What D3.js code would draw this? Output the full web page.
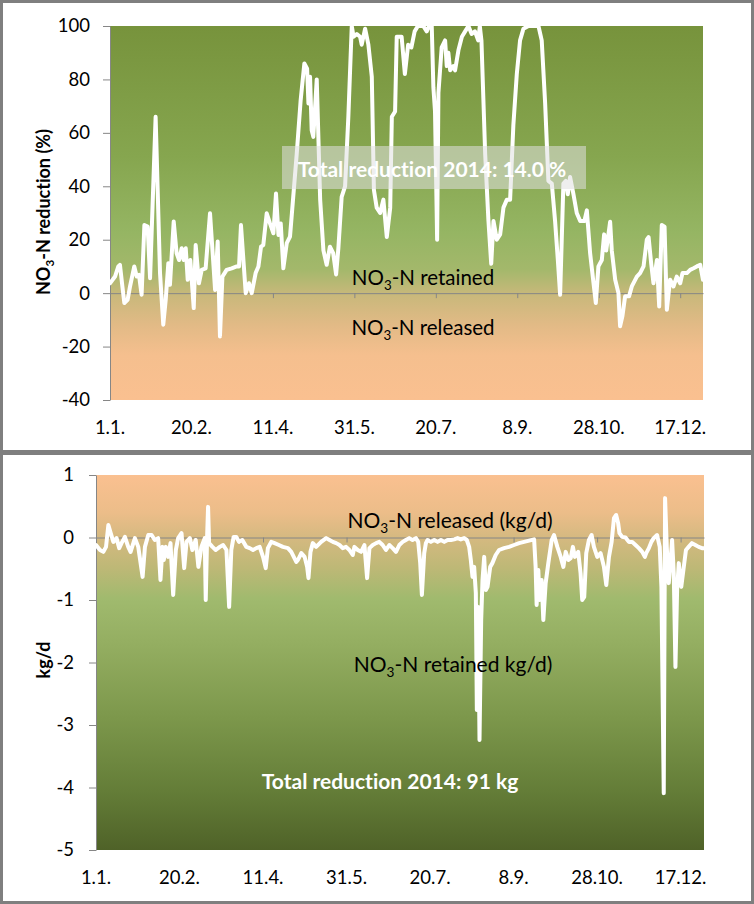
<!DOCTYPE html>
<html><head><meta charset="utf-8">
<script src="https://cdn.jsdelivr.net/npm/d3@7/dist/d3.min.js"></script>
<style>
html,body{margin:0;padding:0;background:#fff;}
svg{display:block;font-family:Lato,"Open Sans",sans-serif;font-variant-ligatures:none;font-feature-settings:"liga" 0,"clig" 0;}
</style></head>
<body>
<svg id="c" width="754" height="904"></svg>
<script>
// ---------- DATA ----------
const xTickDays = [0, 50, 100, 150, 200, 250, 300, 350];
const xTickLabels = ["1.1.", "20.2.", "11.4.", "31.5.", "20.7.", "8.9.", "28.10.", "17.12."];
const topYTicks = [-40, -20, 0, 20, 40, 60, 80, 100];
const botYTicks = [-5, -4, -3, -2, -1, 0, 1];

// NO3-N reduction (%) – day of year index vs value
const topDays = [0,3.1,5.1,6.1,7.6,8.8,10.8,12.3,14.9,16.4,17.8,19.4,21.1,23.1,24.6,28,30.7,32.7,34.2,35.8,36.8,39.1,40.9,42.4,44,45.2,46.5,47.7,49.3,51.4,52.6,54.6,56.3,58.7,61.4,64.5,66.1,67.5,69,71.6,74.7,77.8,79.2,80.4,83.3,85.3,87,89.4,91.1,92.7,94.1,96.2,98.2,100.3,101.9,103.4,104.8,106.4,108.5,110.5,114.6,117,119.3,121,121.8,122.8,123.8,124.8,126.9,129,131,133,135,137,138.8,140.2,142.2,144.3,146.3,148.4,149.5,151.5,153.5,154.5,156.6,158.6,160.7,162,163.7,165.8,167.8,169.9,172,173,175,176,179,181,183,185,187,189,192.3,194.4,195.9,197.5,198.5,199.5,200.8,201.6,203.6,205.7,206.7,207.7,208.8,210.8,211.8,213.9,216,218,220,222,224,226,227,228,230.3,232.3,234,235.4,237.4,239.5,241.5,243.6,245.6,247.6,249.7,251.7,253.8,256.9,263,265,267.1,269.1,271.2,273.2,274.9,276.3,278.3,279.8,281,282.4,284.5,286.5,288.6,291.2,292.7,294.7,296.8,298.2,299.8,301.9,303.3,304.6,307,308,310.1,312.1,313.1,314.5,316.2,318.6,320.3,323.4,325.4,327.5,329.5,330.6,332.2,333.6,335.7,337.1,338.7,340.4,341.8,343.8,345.9,347.9,350,351.4,354.1,356.1,358.2,360.2,362.3,364];
const topValues = [3.7,6.2,10,10.6,2.5,-3.7,-2.5,2.5,10,6.2,6.8,-0.6,25.5,24.9,5.6,66,7.5,-11.8,-2.5,11.2,3.1,26.8,14.9,12.4,16.8,12.4,16.8,5,12.4,-5.6,18,3.7,8.7,9.3,29.9,1.2,19.3,-16.2,6.2,8.7,9.3,10,10,25.5,0,3.7,0,7.5,10,17.4,18,29.9,26.1,22.4,37.3,21.8,26.1,9.3,18.7,21.2,52,72,86,84,71,81,61,58.5,80,35,16,10.6,17.4,15,7,17,36,40,66,100,96,97,96,93,99,93,81,38.6,32,30,35,21,32,66,68,96,96,82,93,92,98,100,100,98,100,100,77,68,20,75,92,94.6,85,90,83.4,85,83.4,91,96,98,100,97,98,94.6,100,94.6,52,27,11,27,20,22,32,35,35,63,82,94.6,99,100,100,94.6,71,42,41,27,12.4,-0.6,41,42,37,43.5,37,30,27,27,31,15,3.7,-3.7,10,12.4,22,16,26.7,16,5,0,-12.4,-8.7,-1.2,-1.2,2.5,6.2,7.5,10,20,21,11,3.7,12.4,-5,25.5,24.9,-6.2,5,2.5,6.2,3.7,7.5,7.5,8.7,9.3,10,10.6,5];

// NO3-N kg/d – day of year index vs value
const botDays = [0,2.4,4.4,6,7.4,8.8,10.4,12.3,13.9,15.3,17.3,19.3,20.7,23.3,25.3,27.9,29.3,31.3,33.3,35.2,37.2,38.6,39.8,40.6,41.8,43.2,44.6,46.2,47.8,49.2,51.2,52.8,54.2,56.2,57.7,59.7,61.3,63.1,65.1,65.7,66.5,67.1,67.7,69.7,71.7,74.1,76.1,78.1,79.7,81,82.4,84,85.6,87.6,90,92,94,96,98,100,101.6,102.9,104.9,106.9,109.5,111.9,114.9,116.9,119.9,120.9,122.9,124.9,126.4,127.2,128.4,129.8,131.8,134.8,137.8,139.8,141.8,143.8,145.8,147.7,149.7,151.7,153.7,154.7,156.7,158.7,160.7,162.3,163.7,165.7,167.7,169.6,171.6,173.6,175.6,177.6,179.6,181.6,183.6,185.5,187.5,189.5,191.5,192.9,194.1,195.1,196.5,197.5,198.5,200.5,202.5,204.5,206.5,208.5,210.5,212.5,214.5,216.5,218.4,220.4,222,223.4,224.4,225.4,226.4,227.4,228,228.8,229.6,230.6,231.4,232.4,233.4,234.4,236,237.3,239.3,241.3,244.3,247.3,250.3,253.3,256.3,259.3,262.3,263.2,263.8,264.8,265.6,266.8,267.8,269.2,270.8,272.8,274.2,276.2,278.2,279.8,281.2,282.8,284.2,285.5,286.7,288.7,290.1,291.1,292.3,293.5,295.1,296.7,298.1,300.1,302.1,304.1,305.5,307.1,308.7,310.1,311.4,312.6,313.4,315,317,319,321,323,325,327,328.6,329.4,331,332.5,333.9,335.9,337.5,338.5,339.9,340.7,341.7,342.9,343.9,344.9,345.9,346.9,347.9,348.9,350.4,351.9,353.2,354.8,356.8,358.8,360.8,362.8,364];
const botValues = [-0.12,-0.2,-0.23,-0.15,0.2,0.07,-0.07,-0.01,-0.17,-0.09,0.01,-0.15,-0.23,-0.01,-0.15,-0.63,-0.15,0.04,0.04,-0.04,-0.01,-0.68,-0.15,-0.36,-0.15,-0.31,-0.09,-0.92,-0.2,-0.01,0.07,-0.49,-0.07,-0.01,-0.2,-0.04,-0.47,-0.15,-0.01,-1.0,-0.01,0.49,-0.09,-0.15,-0.2,-0.15,-0.12,-0.2,-1.11,-0.2,0.01,0.01,-0.07,-0.04,-0.15,-0.17,-0.2,-0.17,-0.15,-0.31,-0.49,-0.17,-0.07,-0.09,-0.12,-0.15,-0.17,-0.23,-0.39,-0.36,-0.25,-0.31,-0.47,-0.65,-0.23,-0.09,-0.15,-0.07,-0.01,-0.04,-0.07,-0.09,-0.12,-0.17,-0.15,-0.2,-0.28,-0.15,-0.2,-0.23,-0.12,-0.65,-0.17,-0.12,-0.09,-0.07,-0.12,-0.2,-0.12,-0.17,-0.23,-0.12,-0.07,-0.04,-0.01,-0.04,-0.01,-0.07,-0.41,-0.92,-0.25,-0.09,-0.04,-0.07,-0.04,-0.07,-0.04,-0.07,-0.04,-0.04,-0.03,-0.01,-0.03,-0.01,-0.04,-0.15,-0.36,-0.63,-0.47,-0.89,-2.76,-1.11,-3.24,-1.32,-0.68,-0.31,-0.84,-0.79,-0.47,-0.41,-0.28,-0.2,-0.17,-0.15,-0.12,-0.09,-0.07,-0.05,-0.03,-0.47,-1.08,-0.52,-1.0,-0.68,-1.32,-0.73,-0.41,-0.04,0.04,-0.15,-0.31,-0.47,-0.23,-0.36,-0.33,-0.15,-0.31,-0.23,-0.57,-1.0,-0.95,-0.25,-0.04,0.04,-0.15,-0.31,-0.25,-0.47,-0.76,-0.31,-0.07,0.31,0.36,0.23,0.07,0.01,0,-0.07,-0.07,-0.12,-0.17,-0.23,-0.31,-0.25,-0.17,-0.07,-0.01,0.04,-0.15,-0.79,-4.09,0.63,-0.15,-0.73,-0.41,-0.04,-0.57,-2.07,-0.84,-0.41,-0.79,-0.47,-0.2,-0.15,-0.09,-0.12,-0.15,-0.17,-0.17];

// ---------- DRAW ----------
const svg = d3.select("#c");
const defs = svg.append("defs");
const axisColor = "#868686";
const tickFont = 18.5;

function gradient(id, stops) {
  const g = defs.append("linearGradient").attr("id", id)
    .attr("x1", 0).attr("y1", 0).attr("x2", 0).attr("y2", 1);
  stops.forEach(s => g.append("stop").attr("offset", s[0]).attr("stop-color", s[1]));
}
gradient("gTop", [[0,"#77933c"],[0.35,"#86a64f"],[0.55,"#95b563"],[0.65,"#a3b86b"],[0.72,"#c9b87b"],[0.80,"#e2ba86"],[0.88,"#f5bf8e"],[1,"#fac090"]]);
gradient("gBot", [[0,"#fac090"],[0.1,"#ecbd89"],[0.17,"#d4b980"],[0.25,"#bdb876"],[0.33,"#a0ba6e"],[0.45,"#94ae61"],[0.65,"#7c974b"],[0.85,"#637c37"],[1,"#4f6228"]]);

// frames
svg.append("rect").attr("x",1.5).attr("y",1.5).attr("width",751).attr("height",450)
  .attr("fill","#fff").attr("stroke","#7f7f7f").attr("stroke-width",3);
svg.append("rect").attr("x",1.5).attr("y",453.5).attr("width",751).attr("height",449)
  .attr("fill","#fff").attr("stroke","#7f7f7f").attr("stroke-width",3);

function panel(cfg) {
  const x = d3.scaleLinear().domain([0, 364]).range([cfg.left, cfg.right]);
  const y = d3.scaleLinear().domain(cfg.yDomain).range([cfg.bottom, cfg.top]);
  const g = svg.append("g");
  g.append("rect").attr("x", cfg.left).attr("y", cfg.top)
    .attr("width", cfg.right - cfg.left).attr("height", cfg.bottom - cfg.top)
    .attr("fill", `url(#${cfg.grad})`);

  const ya = g.append("g").attr("transform", `translate(${cfg.left},0)`)
    .call(d3.axisLeft(y).tickValues(cfg.yTicks).tickSize(7).tickSizeOuter(0)
      .tickPadding(cfg.yPad).tickFormat(d => String(d)));
  ya.select(".domain").attr("stroke", axisColor);
  ya.selectAll(".tick line").attr("stroke", axisColor);
  ya.selectAll("text").attr("font-size", tickFont).attr("fill", "#000").attr("font-family","Lato");

  const xa = g.append("g").attr("transform", `translate(0,${y(0)})`)
    .call(d3.axisBottom(x).tickValues(xTickDays).tickSize(5).tickSizeOuter(0).tickFormat(""));
  xa.select(".domain").attr("stroke", axisColor);
  xa.selectAll(".tick line").attr("stroke", axisColor);

  g.selectAll("text.xl").data(xTickDays).enter().append("text")
    .attr("class","xl").attr("x", d => x(d)).attr("y", cfg.bottom + 34)
    .attr("text-anchor","middle").attr("font-size",tickFont).attr("fill","#000")
    .text((d,i) => xTickLabels[i]);

  const clipId = cfg.grad + "clip";
  defs.append("clipPath").attr("id", clipId).append("rect")
    .attr("x", cfg.left).attr("y", cfg.top).attr("width", cfg.right - cfg.left).attr("height", cfg.bottom - cfg.top);
  const pts = cfg.days.map((d, i) => [d, cfg.values[i]]);
  g.append("path").datum(pts).attr("clip-path", `url(#${clipId})`)
    .attr("fill","none").attr("stroke","#fff").attr("stroke-width",4)
    .attr("stroke-linejoin","round").attr("stroke-linecap","round")
    .attr("d", d3.line().x(p => x(p[0])).y(p => y(p[1])));
  return {x, y, g};
}

const topPanel = panel({left:110, right:703, top:26, bottom:400, yDomain:[-40,100], yTicks:topYTicks,
  grad:"gTop", days:topDays, values:topValues, yPad:13});
const botPanel = panel({left:96, right:704, top:475, bottom:850, yDomain:[-5,1], yTicks:botYTicks,
  grad:"gBot", days:botDays, values:botValues, yPad:15});

function no3Text(parent, x, y, rest, size, anchor, weight, fill) {
  const t = parent.append("text").attr("x", x).attr("y", y).attr("font-size", size)
    .attr("text-anchor", anchor).attr("font-weight", weight).attr("fill", fill);
  t.append("tspan").text("NO");
  t.append("tspan").attr("font-size", size * 0.65).attr("dy", size * 0.22).text("3");
  t.append("tspan").attr("dy", -size * 0.22).text(rest);
  return t;
}

no3Text(svg.append("g").attr("transform","translate(50,212) rotate(-90)"), 0, 0, "-N reduction (%)", 18, "middle", "bold", "#000");
svg.append("text").attr("transform","translate(50,660) rotate(-90)").attr("text-anchor","middle")
  .attr("font-size",18).attr("font-weight","bold").text("kg/d");

svg.append("rect").attr("x",282).attr("y",146).attr("width",304).attr("height",43)
  .attr("fill","#e0e0e0").attr("opacity",0.55);
svg.append("text").attr("x",432).attr("y",177).attr("text-anchor","middle").attr("font-size",21)
  .attr("font-weight","bold").attr("fill","#fff").text("Total reduction 2014: 14.0 %");
no3Text(svg, 423, 285, "-N retained", 20.5, "middle", "normal", "#000");
no3Text(svg, 423, 335, "-N released", 20.5, "middle", "normal", "#000");

no3Text(svg, 450, 528, "-N released (kg/d)", 21, "middle", "normal", "#000");
no3Text(svg, 453, 672, "-N retained kg/d)", 21, "middle", "normal", "#000");
svg.append("text").attr("x",390).attr("y",789).attr("text-anchor","middle").attr("font-size",21)
  .attr("font-weight","bold").attr("fill","#fff").text("Total reduction 2014: 91 kg");
</script>
</body></html>
